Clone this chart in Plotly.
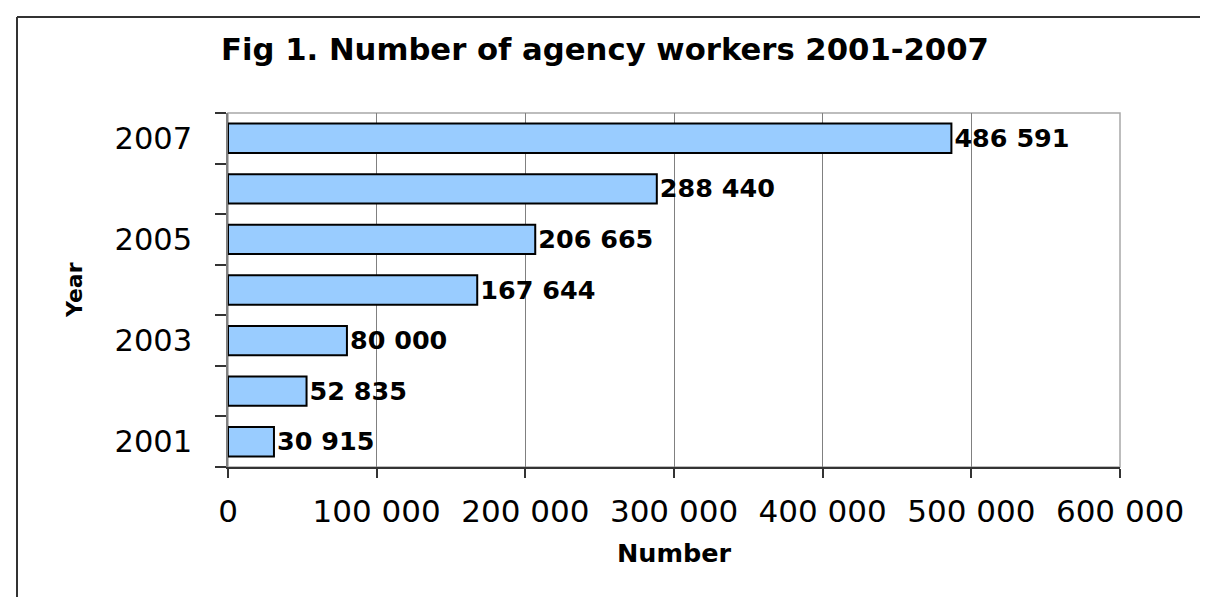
import plotly.graph_objects as go

years = [2001, 2002, 2003, 2004, 2005, 2006, 2007]
workers = [30915, 52835, 80000, 167644, 206665, 288440, 486591]
x_ticks = [0, 100000, 200000, 300000, 400000, 500000, 600000]
y_label_years = [2001, 2003, 2005, 2007]

W, H = 1208, 597
L, R, T, B = 220, 96, 105, 138
pw, ph = W - L - R, H - T - B

fig = go.Figure()
fig.add_trace(go.Bar(
    x=workers, y=years, orientation="h",
    width=0.58,
    marker=dict(color="#99CCFF", line=dict(color="#000000", width=2)),
    texttemplate="%{x:,d}", textposition="outside",
    textfont=dict(family="DejaVu Sans", size=29.5, color="#000000", weight="bold"),
    cliponaxis=False, hoverinfo="skip",
))

fx = (9 - L) / pw
fy = (ph + T - 9) / ph

fig.update_layout(
    width=W, height=H,
    margin=dict(l=L, r=R, t=T, b=B, pad=0),
    paper_bgcolor="white", plot_bgcolor="white",
    separators=". ",
    showlegend=False,
    title=dict(text="Fig 1. Number of agency workers 2001-2007",
               x=597 / W, xanchor="center", y=1 - 41 / H, yanchor="middle",
               font=dict(family="DejaVu Sans", size=30.7, color="#000000", weight="bold")),
    xaxis=dict(
        range=[0, 600000], tickvals=x_ticks, tickformat=",d",
        showgrid=True, gridcolor="#808080", gridwidth=1,
        showline=True, linecolor="#333333", linewidth=2,
        ticks="outside", ticklen=9, tickcolor="#333333", tickwidth=1.5,
        tickfont=dict(family="DejaVu Sans", size=31, color="#000000"),
        ticklabelstandoff=7, zeroline=False,
    ),
    yaxis=dict(
        range=[2000.5, 2007.5], tickvals=y_label_years,
        showgrid=False, zeroline=False,
        showline=True, linecolor="#808080", linewidth=1.5,
        ticks="", ticklabelstandoff=28,
        tickfont=dict(family="DejaVu Sans", size=30.5, color="#000000"),
        minor=dict(tickmode="array",
                   tickvals=[y + 0.5 for y in [2000] + years],
                   ticks="outside", ticklen=11, tickcolor="#333333",
                   tickwidth=1.5, showgrid=False),
    ),
    shapes=[
        dict(type="rect", xref="paper", yref="paper", x0=0, x1=1, y0=0, y1=1,
             line=dict(color="#a8a8a8", width=1.5), layer="below"),
        dict(type="line", xref="paper", yref="paper",
             x0=fx, x1=1.2, y0=fy, y1=fy,
             line=dict(color="#333333", width=2)),
        dict(type="line", xref="paper", yref="paper",
             x0=fx, x1=fx, y0=-0.45, y1=fy,
             line=dict(color="#333333", width=2)),
    ],
    annotations=[
        dict(text="Number", xref="paper", yref="paper", x=0.5,
             y=-(545 - (T + ph)) / ph, xanchor="center", yanchor="middle",
             showarrow=False,
             font=dict(family="DejaVu Sans", size=25.5, color="#000000", weight="bold")),
        dict(text="Year", xref="paper", yref="paper", x=(66 - L) / pw,
             y=0.5, xanchor="center", yanchor="middle", textangle=-90,
             showarrow=False,
             font=dict(family="DejaVu Sans", size=22, color="#000000", weight="bold")),
    ],
)

fig.write_html("out.html")
